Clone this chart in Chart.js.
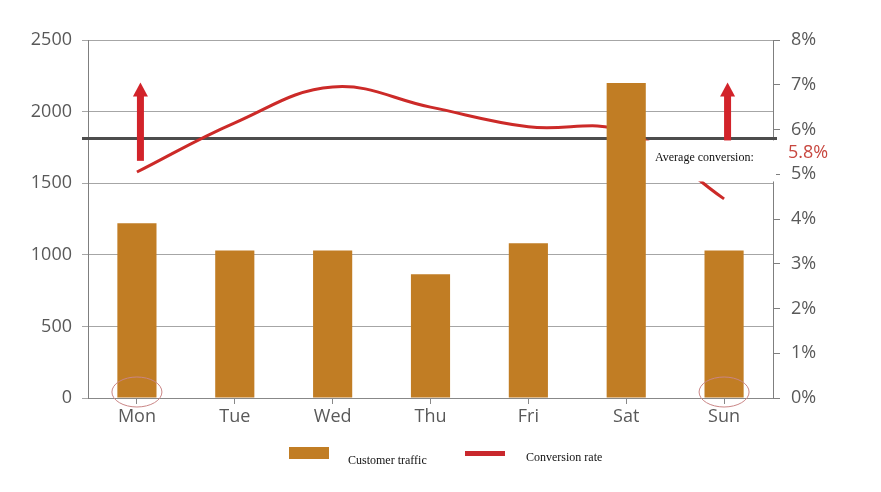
<!DOCTYPE html>
<html>
<head>
<meta charset="utf-8">
<script src="https://cdn.jsdelivr.net/npm/chart.js@4/dist/chart.umd.min.js"></script>
<style>
  html, body { margin: 0; padding: 0; background: #fff; }
  #wrap { width: 881px; height: 492px; }
</style>
</head>
<body>
<div id="wrap"><canvas id="chart"></canvas></div>
<script>
const days = ["Mon", "Tue", "Wed", "Thu", "Fri", "Sat", "Sun"];
const traffic = [1220, 1030, 1030, 865, 1080, 2200, 1030];
const conversion = [5.05, 6.15, 6.95, 6.5, 6.06, 5.95, 4.45];
const avgConversion = 5.8;
const markedDays = ["Mon", "Sun"];

const tickFont = { family: "Open Sans", size: 18 };
const tickColor = "#595959";

// drawn right after the line dataset, so the box hides the line but not the bars
const avgBox = {
  id: "avgBox",
  beforeDatasetsDraw(chart) {
    const { ctx, chartArea: a, scales: { x, y1 } } = chart;
    const yAvg = y1.getPixelForValue(avgConversion);
    ctx.save();
    ctx.strokeStyle = "#4d4d4d";
    ctx.lineWidth = 3;
    ctx.beginPath();
    ctx.moveTo(a.left - 6, yAvg);
    ctx.lineTo(a.right + 4, yAvg);
    ctx.stroke();

    // arrows above the marked days
    ctx.fillStyle = "#d2232a";
    markedDays.forEach(d => {
      const cx = x.getPixelForValue(days.indexOf(d)) + 3;
      const bottom = y1.getPixelForValue(5.3);
      const tip = y1.getPixelForValue(7.05);
      ctx.fillRect(cx - 3, tip + 13, 7, bottom - tip - 13);
      ctx.beginPath();
      ctx.moveTo(cx + 0.5, tip);
      ctx.lineTo(cx + 8, tip + 14);
      ctx.lineTo(cx - 7, tip + 14);
      ctx.closePath();
      ctx.fill();
    });
    ctx.restore();
  },
  afterDatasetDraw(chart, args) {
    if (args.index !== 1) return;
    const { ctx, chartArea: a, scales: { y1 } } = chart;
    const yAvg = y1.getPixelForValue(avgConversion);
    ctx.save();
    ctx.fillStyle = "#fff";
    ctx.fillRect(a.right - 134, yAvg + 2, 137, 41);
    ctx.fillStyle = "#111";
    ctx.font = "12px 'Liberation Serif'";
    ctx.textBaseline = "middle";
    ctx.fillText("Average conversion:", a.right - 118, yAvg + 19);
    ctx.restore();
  },
  afterDraw(chart) {
    const { ctx, chartArea: a, scales: { x, y1 } } = chart;
    const yAvg = y1.getPixelForValue(avgConversion);
    ctx.save();
    // red label on the right axis
    ctx.fillStyle = "#c8473f";
    ctx.font = "18px 'Open Sans'";
    ctx.textBaseline = "middle";
    ctx.fillText(avgConversion + "%", a.right + 15, yAvg + 14);

    // circles round the marked days
    ctx.strokeStyle = "#c98585";
    ctx.lineWidth = 1;
    markedDays.forEach(d => {
      const cx = x.getPixelForValue(days.indexOf(d));
      ctx.beginPath();
      ctx.ellipse(cx, a.bottom - 6, 25, 15, 0, 0, Math.PI * 2);
      ctx.stroke();
    });

    // legend
    ctx.fillStyle = "#c17d24";
    ctx.fillRect(289, 447, 40, 12);
    ctx.fillStyle = "#c9282d";
    ctx.fillRect(465, 451, 40, 5);
    ctx.fillStyle = "#111";
    ctx.font = "12px 'Liberation Serif'";
    ctx.fillText("Customer traffic", 348, 461);
    ctx.fillText("Conversion rate", 526, 458);
    ctx.restore();
  }
};

const ctx = document.getElementById("chart").getContext("2d");

new Chart(ctx, {
  type: "bar",
  data: {
    labels: days,
    datasets: [
      {
        label: "Customer traffic",
        data: traffic,
        backgroundColor: "#c17d24",
        barPercentage: 0.4,
        categoryPercentage: 1,
        yAxisID: "y",
        order: 1
      },
      {
        type: "line",
        label: "Conversion rate",
        data: conversion,
        borderColor: "#cc2a28",
        borderWidth: 3,
        tension: 0.4,
        pointRadius: 0,
        fill: false,
        yAxisID: "y1",
        order: 2
      }
    ]
  },
  options: {
    responsive: true,
    maintainAspectRatio: false,
    animation: false,
    layout: { padding: { top: 40, left: 0, right: 0, bottom: 0 } },
    plugins: {
      legend: { display: false },
      tooltip: { enabled: false }
    },
    scales: {
      x: {
        afterFit: s => { s.height = 94; },
        border: { color: "#888" },
        grid: { display: true, drawOnChartArea: false, offset: false, tickLength: 6, color: "#888" },
        ticks: { font: tickFont, color: tickColor, padding: 2 }
      },
      y: {
        position: "left",
        min: 0,
        max: 2500,
        afterFit: s => { s.width = 88; },
        border: { color: "#7f7f7f" },
        grid: { color: "#a6a6a6", tickLength: 6 },
        ticks: { stepSize: 500, font: tickFont, color: tickColor, padding: 10, callback: v => String(v) }
      },
      y1: {
        position: "right",
        min: 0,
        max: 8,
        afterFit: s => { s.width = 108; },
        border: { color: "#7f7f7f" },
        grid: { drawOnChartArea: false, tickLength: 7, color: "#7f7f7f" },
        ticks: { stepSize: 1, font: tickFont, color: tickColor, padding: 11, callback: v => v + "%" }
      }
    }
  },
  plugins: [avgBox]
});
</script>
</body>
</html>
